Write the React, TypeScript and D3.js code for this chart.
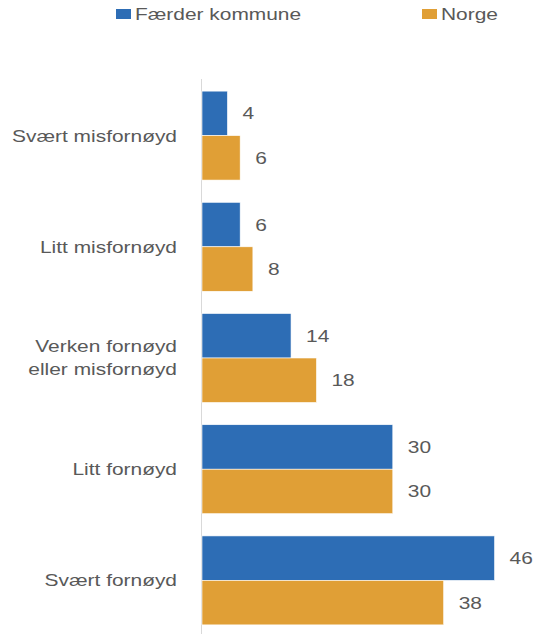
import React, { useRef, useEffect } from 'react';
import * as d3 from 'd3';

const categories = [
  'Svært misfornøyd',
  'Litt misfornøyd',
  'Verken fornøyd\neller misfornøyd',
  'Litt fornøyd',
  'Svært fornøyd',
];
const seriesNames = ['Færder kommune', 'Norge'];
const faerder = [4, 6, 14, 30, 46];
const norge = [6, 8, 18, 30, 38];

const W = 535;
const H = 634;
const colors = ['#2d6db5', '#e09f36'];
const textColor = '#595959';
const stretch = 1.23; // the reference text is wide

const App: React.FC = () => {
  const svgRef = useRef<SVGSVGElement | null>(null);

  useEffect(() => {
    const svg = d3.select(svgRef.current!);
    svg.selectAll('*').remove();

    const x = d3.scaleLinear().domain([0, 50]).range([202, 520]);
    const y = d3.scaleBand<string>()
      .domain(categories)
      .range([80, 636])
      .paddingInner(0.2)
      .paddingOuter(0.1);
    const sub = d3.scaleBand<string>()
      .domain(seriesNames)
      .range([0, y.bandwidth()]);

    const rows = categories.map((c, i) => ({ cat: c, values: [faerder[i], norge[i]] }));

    // axis line
    svg.append('line')
      .attr('x1', x(0) - 0.5).attr('x2', x(0) - 0.5)
      .attr('y1', 79).attr('y2', H)
      .attr('stroke', '#d9d9d9')
      .attr('stroke-width', 1);

    const groups = svg.selectAll('g.cat')
      .data(rows)
      .enter()
      .append('g')
      .attr('class', 'cat')
      .attr('transform', (d) => `translate(0,${y(d.cat)})`);

    groups.selectAll('rect')
      .data((d) => d.values.map((v, j) => ({ v, s: seriesNames[j], j })))
      .enter()
      .append('rect')
      .attr('x', x(0))
      .attr('y', (d) => sub(d.s)!)
      .attr('width', (d) => x(d.v) - x(0))
      .attr('height', sub.bandwidth())
      .attr('fill', (d) => colors[d.j])
      .attr('stroke', '#fff')
      .attr('stroke-width', 0.6);

    groups.selectAll('text.val')
      .data((d) => d.values.map((v, j) => ({ v, s: seriesNames[j] })))
      .enter()
      .append('text')
      .attr('class', 'val')
      .attr('transform', (d) => `translate(${x(d.v) + 15},${sub(d.s)! + sub.bandwidth() / 2}) scale(${stretch},1)`)
      .attr('dy', '0.35em')
      .attr('font-family', 'Liberation Sans, Arial, sans-serif')
      .attr('font-size', 17)
      .attr('fill', textColor)
      .text((d) => d.v);

    // category labels
    groups.each(function (d) {
      const lines = d.cat.split('\n');
      const cy = y.bandwidth() / 2;
      const t = d3.select(this).append('text')
        .attr('transform', `translate(177,${cy}) scale(${stretch},1)`)
        .attr('text-anchor', 'end')
        .attr('font-family', 'Liberation Sans, Arial, sans-serif')
        .attr('font-size', 17)
        .attr('fill', textColor);
      lines.forEach((ln, k) => {
        t.append('tspan')
          .attr('x', 0)
          .attr('y', (k - (lines.length - 1) / 2) * 23)
          .attr('dy', '0.35em')
          .text(ln);
      });
    });

    // legend
    const legendX = [116, 422];
    const legend = svg.selectAll('g.legend')
      .data(seriesNames)
      .enter()
      .append('g')
      .attr('class', 'legend')
      .attr('transform', (_d, i) => `translate(${legendX[i]},0)`);
    legend.append('rect')
      .attr('x', 0).attr('y', 9)
      .attr('width', 15).attr('height', 10)
      .attr('fill', (_d, i) => colors[i]);
    legend.append('text')
      .attr('transform', `translate(19,14) scale(${stretch},1)`)
      .attr('dy', '0.35em')
      .attr('font-family', 'Liberation Sans, Arial, sans-serif')
      .attr('font-size', 17)
      .attr('fill', textColor)
      .text((d) => d);
  }, []);

  return (
    <svg
      ref={svgRef}
      width={W}
      height={H}
      style={{ position: 'absolute', left: 0, top: 0, background: '#fff' }}
    />
  );
};

export default App;
